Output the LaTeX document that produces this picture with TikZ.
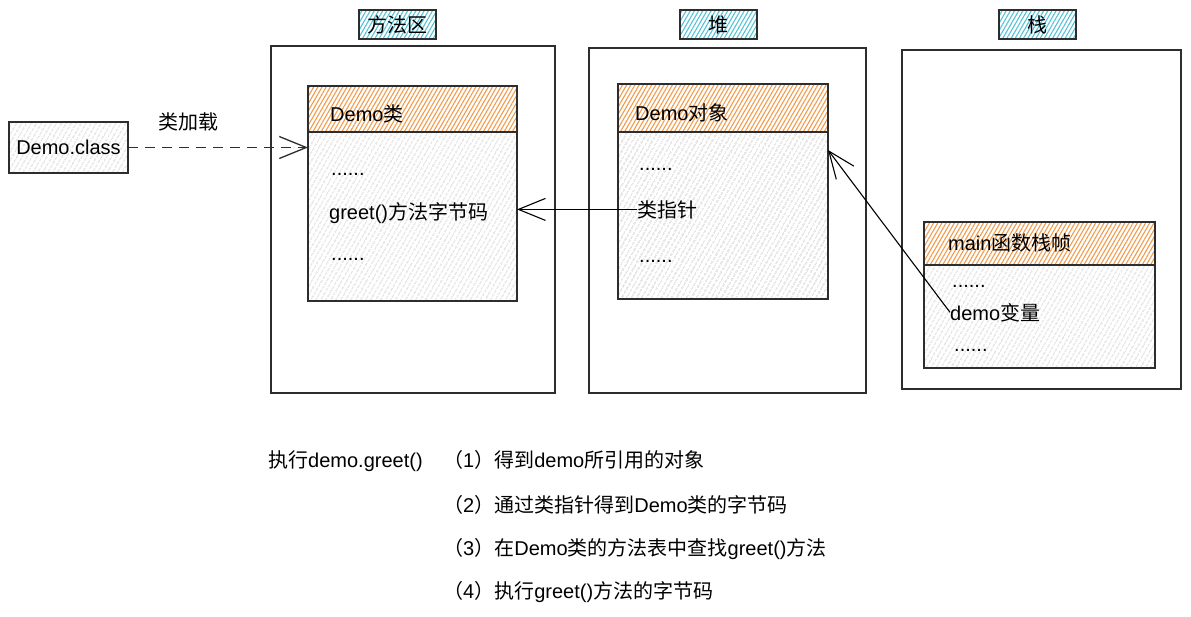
\documentclass[tikz,border=0pt]{standalone}
\usepackage{fontspec}
\setmainfont{Liberation Sans}
\newfontfamily\zhfont{Noto Sans CJK SC}
\newcommand\zh[1]{{\zhfont #1}}
\usetikzlibrary{patterns.meta,arrows.meta,calc}
\definecolor{hatchorange}{RGB}{242,155,75}
\definecolor{hatchcyan}{RGB}{85,195,215}
\definecolor{hatchgray}{RGB}{190,190,190}
\definecolor{edgec}{RGB}{45,45,45}
\begin{document}
\begin{tikzpicture}[x=1pt,y=-1pt,
  font=\fontsize{20}{24}\selectfont,
  box/.style={draw=edgec, line width=1.3pt, anchor=north west, inner sep=0pt, outer sep=0pt},
  grayhatch/.style={preaction={fill=white}, pattern={Lines[angle=60,distance=4pt,line width=0.9pt]}, pattern color=hatchgray},
  orangehatch/.style={preaction={fill=white}, pattern={Lines[angle=60,distance=3.6pt,line width=1.1pt]}, pattern color=hatchorange},
  cyanhatch/.style={preaction={fill=white}, pattern={Lines[angle=60,distance=3.6pt,line width=1.1pt]}, pattern color=hatchcyan},
  txt/.style={anchor=base west, inner sep=0pt, text=black},
  solidarrow/.style={draw=black, line width=1.1pt, -{Straight Barb[length=27pt,width=22pt]}},
  dashedarrow/.style={draw=edgec, line width=1.3pt, dash pattern=on 10pt off 7pt, -{Straight Barb[length=27pt,width=22pt]}}
]
\useasboundingbox (0,0) rectangle (1191,616);

% region labels
\node[box,cyanhatch,minimum width=77pt,minimum height=29pt,line width=1.1pt] (labMA) at (359,10) {};
\node at (labMA.center) {\zh{方法区}};
\node[box,cyanhatch,minimum width=77pt,minimum height=29pt,line width=1.1pt] (labHeap) at (680,10) {};
\node at (labHeap.center) {\zh{堆}};
\node[box,cyanhatch,minimum width=77pt,minimum height=29pt,line width=1.1pt] (labStack) at (999,10) {};
\node at (labStack.center) {\zh{栈}};

% outer regions
\node[box,minimum width=284pt,minimum height=347pt] (ma) at (271,46) {};
\node[box,minimum width=277pt,minimum height=345pt] (heap) at (589,48) {};
\node[box,minimum width=279pt,minimum height=339pt] (stack) at (902,50) {};

% Demo.class
\node[box,grayhatch,minimum width=119pt,minimum height=51pt] (dc) at (9,122) {};
\node at (dc.center) {Demo.class};

% Demo class box
\node[box,grayhatch,minimum width=209pt,minimum height=169pt] (cb) at (308,132) {};
\node[box,orangehatch,minimum width=209pt,minimum height=46pt] (ch) at (308,86) {};
\node[txt] (clsT) at (330,121) {Demo\zh{类}};
\node[txt] (c1) at (331,175) {......};
\node[txt] (greet) at (329,219) {greet()\zh{方法字节码}};
\node[txt] (c2) at (331,260) {......};

% Demo object box
\node[box,grayhatch,minimum width=210pt,minimum height=167pt] (ob) at (618,132) {};
\node[box,orangehatch,minimum width=210pt,minimum height=48pt] (oh) at (618,84) {};
\node[txt] (objT) at (635,120) {Demo\zh{对象}};
\node[txt] (o1) at (639,170) {......};
\node[txt] (ptr) at (637,217) {\zh{类指针}};
\node[txt] (o2) at (639,262) {......};

% main frame box
\node[box,grayhatch,minimum width=231pt,minimum height=103pt] (fb) at (924,265) {};
\node[box,orangehatch,minimum width=231pt,minimum height=43pt] (fh) at (924,222) {};
\node[txt] (frT) at (948,250) {main\zh{函数栈帧}};
\node[txt] (f1) at (952,287) {......};
\node[txt] (dv) at (950,320) {demo\zh{变量}};
\node[txt] (f2) at (954,351) {......};

% load label
\node (load) at (188,122) {\zh{类加载}};

% connectors
\draw[dashedarrow] (dc.east) -- (dc.east -| cb.west);
\draw[solidarrow] (ptr.west) -- (ptr.west -| cb.east);
\draw[solidarrow] (dv.west) -- ([yshift=-18pt]ob.north east);

% bottom text
\node[txt] (exec) at (268,467) {\zh{执行}demo.greet()};
\node[txt] (s1) at (443,467) {\zh{（}1\zh{）得到}demo\zh{所引用的对象}};
\node[txt] (s2) at (443,512) {\zh{（}2\zh{）通过类指针得到}Demo\zh{类的字节码}};
\node[txt] (s3) at (443,555) {\zh{（}3\zh{）在}Demo\zh{类的方法表中查找}greet()\zh{方法}};
\node[txt] (s4) at (443,598) {\zh{（}4\zh{）执行}greet()\zh{方法的字节码}};
\end{tikzpicture}
\end{document}
